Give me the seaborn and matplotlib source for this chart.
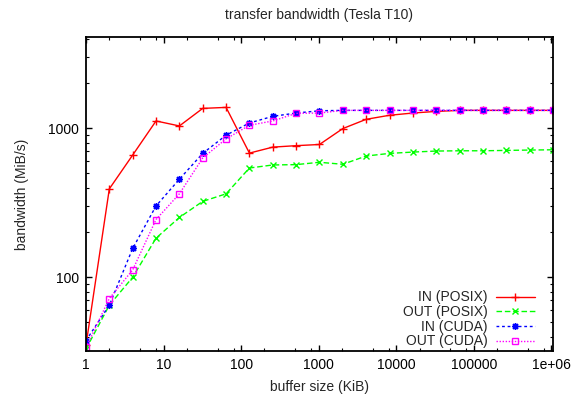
import matplotlib

matplotlib.use("Agg")

import matplotlib.pyplot as plt
import matplotlib.ticker as mticker
import numpy as np
import pandas as pd
import seaborn as sns

# buffer sizes 2^0 .. 2^20 KiB
buffer_kib = [2 ** k for k in range(21)]

in_posix = [35, 392, 661, 1119, 1036, 1359, 1380, 681, 747, 764, 778, 995,
            1148, 1222, 1265, 1297, 1318, 1318, 1318, 1318, 1318]
out_posix = [33, 65, 100, 183, 252, 323, 363, 541, 567, 570, 591, 573,
             651, 678, 692, 703, 706, 706, 710, 714, 717]
in_cuda = [37.6, 65, 156, 301, 455, 678, 898, 1085, 1202, 1265, 1310, 1318,
           1318, 1318, 1318, 1318, 1318, 1318, 1318, 1318, 1318]
out_cuda = [33.8, 72, 112, 244, 363, 631, 849, 1047, 1119, 1259, 1265, 1318,
            1318, 1318, 1318, 1318, 1318, 1318, 1318, 1318, 1318]

series = [
    ("IN (POSIX)", in_posix, "#ff0000", (), "+", 6),
    ("OUT (POSIX)", out_posix, "#00ff00", (4, 2), "x", 5),
    ("IN (CUDA)", in_cuda, "#0000ff", (2, 2), (8, 2, 0), 5),
    ("OUT (CUDA)", out_cuda, "#ff00ff", (1, 1.2), "s", 5),
]

x_ticks = [1, 10, 100, 1000, 10000, 100000, 1000000]
x_tick_labels = ["1", "10", "100", "1000", "10000", "100000", "1e+06"]
y_ticks = [100, 1000]
y_tick_labels = ["100", "1000"]

sns.set_style("ticks")
plt.rcParams["font.family"] = ["Liberation Sans", "DejaVu Sans"]
plt.rcParams["font.size"] = 10

fig = plt.figure(figsize=(5.79, 3.96), dpi=100)
ax = fig.add_axes([0.1485, 0.1136, 0.8065, 0.793])

for label, values, color, dashes, marker, msize in series:
    df = pd.DataFrame({"size": buffer_kib, "bw": values})
    sns.lineplot(data=df, x="size", y="bw", ax=ax, color=color, label=label,
                 marker=marker, markersize=msize, linewidth=1,
                 markerfacecolor="none" if marker == "s" else color,
                 markeredgecolor=color, markeredgewidth=1)
    ln = ax.lines[-1]
    if dashes:
        ln.set_dashes(dashes)

ax.set_xscale("log")
ax.set_yscale("log")
ax.set_xlim(1, 2 ** 20)
ax.set_ylim(32, 4096)

ax.xaxis.set_major_locator(mticker.FixedLocator(x_ticks))
ax.xaxis.set_major_formatter(mticker.FixedFormatter(x_tick_labels))
ax.xaxis.set_minor_locator(mticker.LogLocator(base=10, subs=[2, 5, 8], numticks=20))
ax.xaxis.set_minor_formatter(mticker.NullFormatter())
ax.yaxis.set_major_locator(mticker.FixedLocator(y_ticks))
ax.yaxis.set_major_formatter(mticker.FixedFormatter(y_tick_labels))
ax.yaxis.set_minor_locator(mticker.LogLocator(base=10, subs=np.arange(2, 10), numticks=20))
ax.yaxis.set_minor_formatter(mticker.NullFormatter())

ax.tick_params(which="both", direction="in", top=True, right=True, colors="black",
               labelsize=10)
ax.tick_params(which="major", length=4, width=1, pad=5)
ax.tick_params(which="minor", length=2.5, width=0.8)
for sp in ax.spines.values():
    sp.set_linewidth(1.3)
    sp.set_color("black")

ax.set_title("transfer bandwidth (Tesla T10)", fontsize=10, pad=13)
ax.set_xlabel("buffer size (KiB)", fontsize=10, labelpad=6)
ax.set_ylabel("bandwidth (MiB/s)", fontsize=10, labelpad=14)

ax.legend(loc="lower right", bbox_to_anchor=(0.976, -0.014), frameon=False, markerfirst=False,
          fontsize=10, handlelength=2.8, handletextpad=0.6, labelspacing=0.05,
          borderpad=0.0)

fig.savefig("out.png", dpi=100)
